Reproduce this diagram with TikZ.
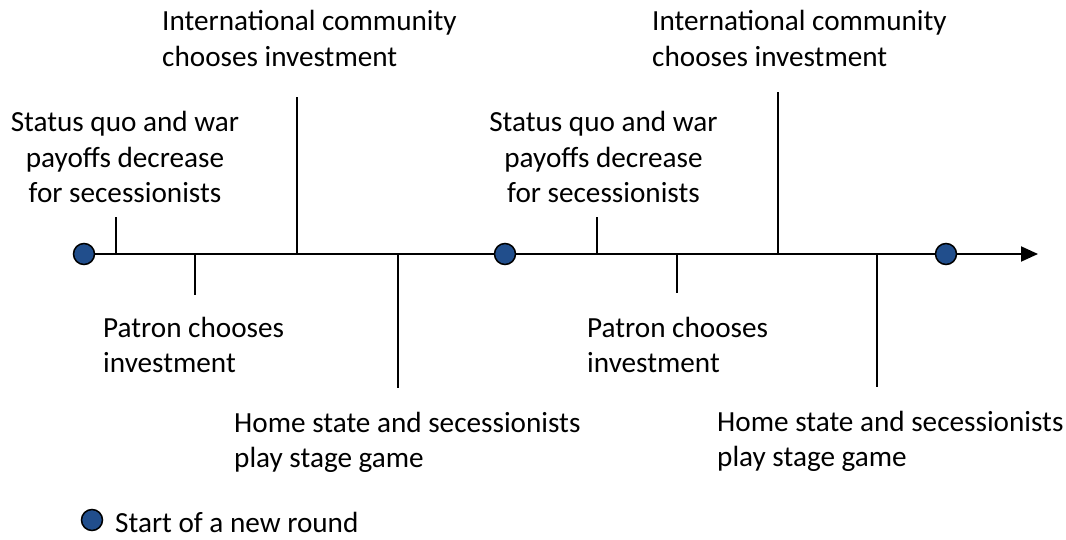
\documentclass[tikz,border=0pt]{standalone}
\usepackage{fontspec}
\setmainfont{Carlito}
\usetikzlibrary{arrows.meta}
\definecolor{dotblue}{RGB}{33,78,140}
\newcommand\labellines[2]{\begin{tabular}[t]{@{}#1@{}}#2\end{tabular}}
\begin{document}
\begin{tikzpicture}[x=1pt,y=-1pt,
  lbl/.style={inner sep=0pt, font=\fontsize{29.2}{35.5}\selectfont},
  dot/.style={circle, draw=black, line width=1.5pt, fill=dotblue, minimum size=21pt, inner sep=0pt},
  tickline/.style={line width=1.5pt},
  axisline/.style={line width=2pt, -{Triangle[length=17pt,width=15pt]}}]
\useasboundingbox (0,0) rectangle (1066,540);
% axis
\coordinate (a0) at (84,254);
\coordinate (a1) at (505,254);
\coordinate (a2) at (946,254);
\coordinate (aend) at (1038,254);
\draw[axisline] (a0) -- (aend);
% ticks
\coordinate (t1b) at (116,254); \coordinate (t1e) at (116,217);
\coordinate (t2b) at (195,254); \coordinate (t2e) at (195,295);
\coordinate (t3b) at (297,254); \coordinate (t3e) at (297,97);
\coordinate (t4b) at (398,254); \coordinate (t4e) at (398,388);
\coordinate (t5b) at (597,254); \coordinate (t5e) at (597,217);
\coordinate (t6b) at (677,254); \coordinate (t6e) at (677,293);
\coordinate (t7b) at (778,254); \coordinate (t7e) at (778,92);
\coordinate (t8b) at (877,254); \coordinate (t8e) at (877,387);
\foreach \i in {1,...,8} {\draw[tickline] (t\i b) -- (t\i e);}
% round markers
\node[dot] (d0) at (a0) {};
\node[dot] (d1) at (a1) {};
\node[dot] (d2) at (a2) {};
% labels
\node[lbl, anchor=base] (sq1) at (125,132) {\labellines{c}{Status quo and war\\payoffs decrease\\for secessionists}};
\node[lbl, anchor=base] (sq2) at (603.5,132) {\labellines{c}{Status quo and war\\payoffs decrease\\for secessionists}};
\node[lbl, anchor=base west] (ic1) at (162,31) {\labellines{l}{International community\\chooses investment}};
\node[lbl, anchor=base west] (ic2) at (652,31) {\labellines{l}{International community\\chooses investment}};
\node[lbl, anchor=base west] (pc1) at (103,337) {\labellines{l}{Patron chooses\\investment}};
\node[lbl, anchor=base west] (pc2) at (587,337) {\labellines{l}{Patron chooses\\investment}};
\node[lbl, anchor=base west] (hs1) at (234,432) {\labellines{l}{Home state and secessionists\\play stage game}};
\node[lbl, anchor=base west] (hs2) at (717,431) {\labellines{l}{Home state and secessionists\\play stage game}};
% legend
\node[dot] (legdot) at (92,520) {};
\node[lbl, anchor=base west] (legtext) at (115,532) {Start of a new round};
\end{tikzpicture}
\end{document}
